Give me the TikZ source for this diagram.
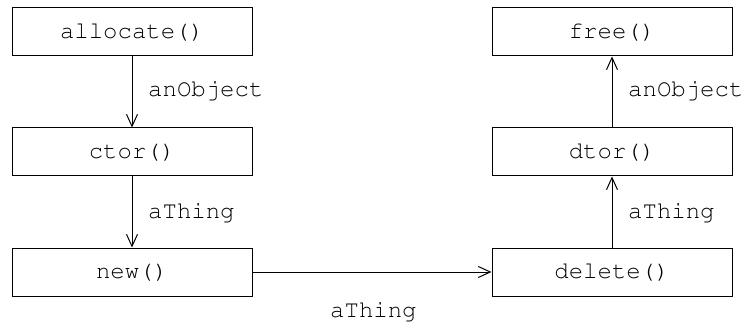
\documentclass[tikz,border=0pt]{standalone}
\usepackage[T1]{fontenc}
\usepackage{courier}
\renewcommand{\familydefault}{\ttdefault}
\usetikzlibrary{arrows.meta}
\tikzset{
  fn/.style={draw, line width=1pt, rectangle, minimum width=240pt, minimum height=48pt, inner sep=0pt, font=\fontsize{24}{28}\selectfont},
  lbl/.style={anchor=base west, inner sep=0pt, font=\fontsize{24}{28}\selectfont},
  flow/.style={line width=1pt, -{Straight Barb[length=12pt,width=11pt,line width=1pt]}}
}
\begin{document}
\begin{tikzpicture}[x=1pt,y=-1pt]
\useasboundingbox (0,0) rectangle (746,323);
\node[fn] (alloc) at (132,32) {allocate()};
\node[fn] (ctor) at (132,152) {ctor()};
\node[fn] (new) at (132,272) {new()};
\node[fn] (free) at (612,32) {free()};
\node[fn] (dtor) at (612,152) {dtor()};
\node[fn] (delete) at (612,272) {delete()};
\draw[flow] (alloc) -- (ctor);
\draw[flow] (ctor) -- (new);
\draw[flow] (new) -- (delete);
\draw[flow] (delete) -- (dtor);
\draw[flow] (dtor) -- (free);
\node[lbl] (l1) at (148,97) {anObject};
\node[lbl] (l2) at (148,218) {aThing};
\node[lbl] (l3) at (628,97) {anObject};
\node[lbl] (l4) at (628,218) {aThing};
\node[lbl] (l5) at (330,317) {aThing};
\end{tikzpicture}
\end{document}
